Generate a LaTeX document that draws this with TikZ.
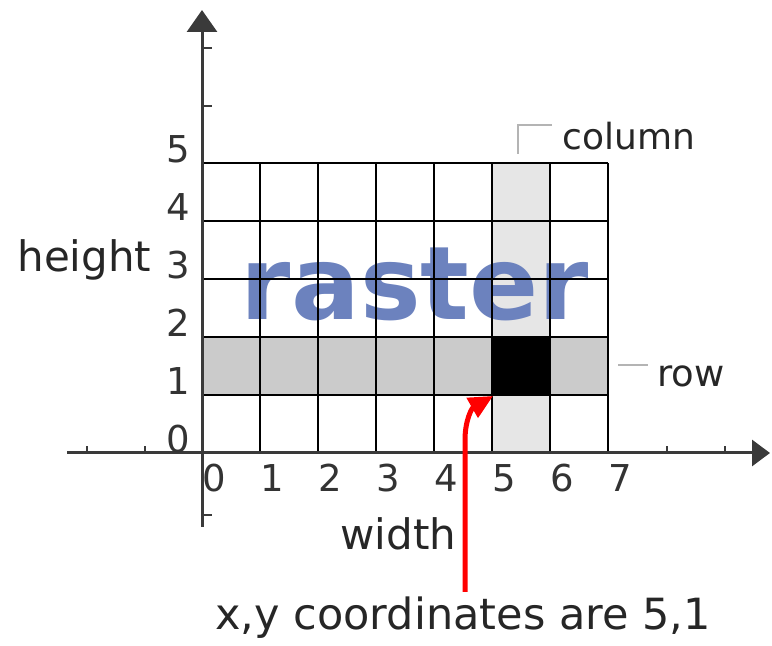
\documentclass[tikz,border=0pt]{standalone}
\usepackage{fontspec}
\setmainfont{DejaVu Sans}
\usetikzlibrary{arrows.meta}
\definecolor{axisgray}{HTML}{3A3A3A}
\definecolor{colfill}{HTML}{E6E6E6}
\definecolor{rowfill}{HTML}{CBCBCB}
\definecolor{rasterblue}{HTML}{6C82BE}
\definecolor{bracketgray}{HTML}{B4B4B4}
\tikzset{
  axisline/.style={draw=axisgray, line width=1.5pt},
  gridline/.style={draw=black, line width=1pt},
  tickline/.style={draw=axisgray, line width=1pt},
  numlabel/.style={inner sep=0pt, font=\fontsize{18.5}{20}\selectfont, text=black!80},
  wordlabel/.style={inner sep=0pt, anchor=base west, text=black!85},
  bracket/.style={draw=bracketgray, line width=1pt},
}
\begin{document}
\begin{tikzpicture}[x=0.5pt,y=-0.5pt]
\useasboundingbox (0,0) rectangle (772,646);
% shading
\fill[colfill] (492,163) rectangle (550,453);
\fill[rowfill] (202,337) rectangle (608,395);
\fill[black] (492,337) rectangle (550,395);
% raster watermark
\node[inner sep=0pt, anchor=base, text=rasterblue, font=\fontsize{51}{55}\selectfont\bfseries] (raster) at (415,320) {raster};
% grid
\foreach \i in {0,...,7} { \draw[gridline] (202+58*\i,163) -- (202+58*\i,453); }
\foreach \j in {0,...,5} { \draw[gridline] (202,453-58*\j) -- (608,453-58*\j); }
% axes
\coordinate (xs) at (67,453);
\coordinate (xe) at (770,453);
\coordinate (ys) at (202,527);
\coordinate (ye) at (202,10);
\draw[axisline, -{Triangle[width=13pt,length=9pt]}] (xs) -- (xe);
\draw[axisline, -{Triangle[width=15pt,length=11pt]}] (ys) -- (ye);
% ticks
\foreach \y in {48,106,515} { \draw[tickline] (202,\y) -- (212,\y); }
\foreach \x in {87,145,667,725} { \draw[tickline] (\x,453) -- (\x,446); }
% axis numbers
\foreach \j in {0,...,5} { \node[numlabel, anchor=base east] (yl\j) at (190,453-58*\j) {\j}; }
\foreach \i in {0,...,7} { \node[numlabel, anchor=base] (xl\i) at (214+58*\i,492) {\i}; }
% labels
\node[wordlabel, font=\fontsize{21}{24}\selectfont] (height) at (17,272) {height};
\node[wordlabel, font=\fontsize{21}{24}\selectfont] (width) at (340,550) {width};
\node[wordlabel, font=\fontsize{18}{20}\selectfont] (column) at (562,150) {column};
\node[wordlabel, font=\fontsize{18.5}{20}\selectfont] (row) at (657,387) {row};
\node[wordlabel, font=\fontsize{21.5}{24}\selectfont] (coords) at (215,630) {x,y coordinates are 5,1};
% brackets
\coordinate (cb1) at (518,154);
\coordinate (cb2) at (518,125);
\coordinate (cb3) at (552,125);
\draw[bracket] (cb1) -- (cb2) -- (cb3);
\coordinate (rb1) at (618,365);
\coordinate (rb2) at (648,365);
\draw[bracket] (rb1) -- (rb2);
% red arrow
\coordinate (rs) at (465,592);
\coordinate (rt) at (493,396);
\draw[red, line width=2.5pt, -{Triangle[width=11pt,length=12pt]}] (rs) -- (465,440) .. controls (465,420) and (472,408) .. (rt);
\end{tikzpicture}
\end{document}
